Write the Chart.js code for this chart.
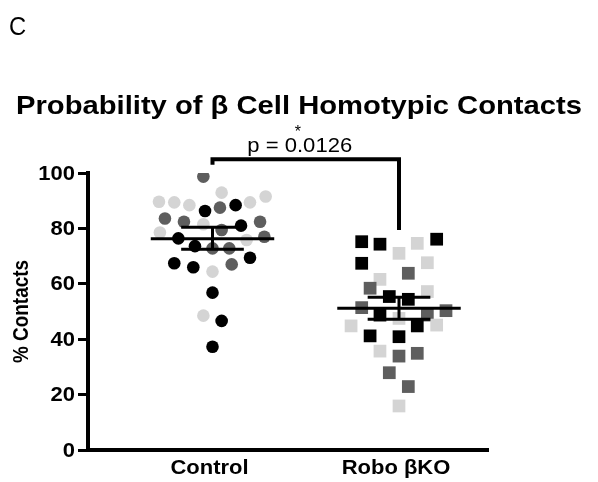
<!DOCTYPE html>
<html><head><meta charset="utf-8">
<script src="https://cdn.jsdelivr.net/npm/chart.js@4/dist/chart.umd.min.js"></script>
<style>html,body{margin:0;padding:0;background:#fff;} canvas{display:block}</style>
</head><body>
<canvas id="c" width="598" height="482"></canvas>
<script>
// ---- data ----
const categories = ['Control', 'Robo βKO'];
const yTicks = [0, 20, 40, 60, 80, 100];

const controlValues = [98.7, 92.9, 89.6, 89.4, 88.4, 86.3, 87.5, 88.4, 89.4, 91.5,
  83.6, 82.4, 81.5, 81.0, 82.4, 78.5, 79.4, 77.0, 75.8, 76.4,
  73.6, 72.8, 72.8, 69.4, 67.4, 66.0, 64.4, 67.0, 56.8, 48.5, 46.6, 37.3];
const controlShades = ['d','l','l','l','l','b','d','b','l','l',
  'd','d','l','b','d','l','d','d','l','b',
  'b','d','d','b','b','b','l','d','b','l','b','b'];
const controlJitter = [-0.049, 0.049, -0.287, -0.205, -0.124, -0.040, 0.040, 0.124, 0.201, 0.285,
  -0.255, -0.153, -0.049, 0.153, 0.255, -0.282, 0.049, 0.278, 0.183, -0.183,
  -0.094, 0.0, 0.090, 0.201, -0.205, -0.103, 0.0, 0.103, 0.0, -0.049, 0.049, 0.0];

const roboValues = [75.2, 74.3, 74.6, 76.1, 71.0, 67.4, 67.6, 63.8, 61.6, 58.4,
  57.2, 55.4, 54.4, 51.4, 50.3, 48.7, 47.5, 48.7, 44.8, 44.8,
  45.1, 41.2, 40.9, 35.7, 33.9, 34.9, 27.9, 22.9, 15.9];
const roboShades = ['b','b','l','b','l','b','l','d','l','d',
  'l','b','b','d','d','b','l','d','l','b',
  'l','b','b','l','d','d','d','d','l'];
const roboJitter = [-0.200, -0.102, 0.098, 0.202, 0.0, -0.200, 0.152, 0.050, -0.102, -0.155,
  0.152, -0.052, 0.050, -0.200, 0.252, -0.102, 0.0, 0.152, -0.257, 0.098,
  0.202, -0.155, 0.0, -0.102, 0.0, 0.098, -0.052, 0.050, 0.0];

const groupMeans = [76.3, 51.2];
const groupUpper = [80.4, 55.1];
const groupLower = [72.5, 47.2];

const pValueLabel = 'p = 0.0126';
const bracketLevel = 105;
const bracketDrops = [103, 79.4];

// ---- styling ----
const shadeColor = { b: '#000000', d: '#5e5e5e', l: '#d4d4d4' };
const FONT = '"Liberation Sans", Arial, Helvetica, sans-serif';
const xPos = [1, 2];

const datasets = [];
datasets.push({
  data: controlValues.map((v, i) => ({ x: xPos[0] + controlJitter[i], y: v })),
  pointStyle: 'circle', pointRadius: 6.3, pointBorderWidth: 0,
  pointBackgroundColor: controlShades.map(s => shadeColor[s]),
  showLine: false, order: 2
});
datasets.push({
  data: roboValues.map((v, i) => ({ x: xPos[1] + roboJitter[i], y: v })),
  pointStyle: 'rect', pointRadius: 9, pointBorderWidth: 0,
  pointBackgroundColor: roboShades.map(s => shadeColor[s]),
  showLine: false, order: 2
});
const meanHalf = 0.331, capHalf = 0.168;
function seg(pts, w) {
  return { data: pts, showLine: true, borderColor: '#000', borderWidth: w || 3,
    pointRadius: 0, fill: false, order: 1, clip: false, borderCapStyle: 'butt' };
}
for (let g = 0; g < 2; g++) {
  const c = xPos[g];
  datasets.push(seg([{ x: c - meanHalf, y: groupMeans[g] }, { x: c + meanHalf, y: groupMeans[g] }]));
  datasets.push(seg([{ x: c, y: groupLower[g] }, { x: c, y: groupUpper[g] }]));
  datasets.push(seg([{ x: c - capHalf, y: groupUpper[g] }, { x: c + capHalf, y: groupUpper[g] }]));
  datasets.push(seg([{ x: c - capHalf, y: groupLower[g] }, { x: c + capHalf, y: groupLower[g] }]));
}
const bracket = seg([
  { x: xPos[0], y: bracketDrops[0] }, { x: xPos[0], y: bracketLevel },
  { x: xPos[1], y: bracketLevel }, { x: xPos[1], y: bracketDrops[1] }], 4);
bracket.borderJoinStyle = 'miter';
datasets.push(bracket);

function sText(ctx, text, x, y, font, sx, align, base) {
  ctx.save();
  ctx.font = font; ctx.fillStyle = '#000';
  ctx.textAlign = align || 'center'; ctx.textBaseline = base || 'alphabetic';
  ctx.translate(x, y); ctx.scale(sx, 1);
  ctx.fillText(text, 0, 0);
  ctx.restore();
}

const textPlugin = {
  id: 'texts',
  afterDraw(chart) {
    const ctx = chart.ctx;
    const xs = chart.scales.x, ys = chart.scales.y;
    // panel letter
    sText(ctx, 'C', 9, 35, '25px ' + FONT, 0.95, 'left');
    // title, stretched to the reference width
    ctx.save();
    const tf = 'bold 26px ' + FONT;
    ctx.font = tf;
    const title = 'Probability of β Cell Homotypic Contacts';
    const tw = ctx.measureText(title).width;
    ctx.restore();
    sText(ctx, title, 299, 114, tf, 566 / tw, 'center');
    // y tick labels
    yTicks.forEach(v => {
      sText(ctx, String(v), ys.left - 1, ys.getPixelForValue(v) + 1, 'bold 20px ' + FONT, 1.1, 'right', 'middle');
    });
    // x category labels
    categories.forEach((c, i) => {
      sText(ctx, c, xs.getPixelForValue(xPos[i]) - 3, 474, 'bold 20px ' + FONT, 1.1, 'center');
    });
    // y axis title
    ctx.save();
    ctx.translate(28, (ys.top + ys.bottom) / 2);
    ctx.rotate(-Math.PI / 2);
    ctx.font = 'bold 22px ' + FONT; ctx.fillStyle = '#000'; ctx.textAlign = 'center'; ctx.textBaseline = 'alphabetic';
    ctx.scale(0.86, 1);
    ctx.fillText('% Contacts', 0, 0);
    ctx.restore();
    // p value annotation
    const mid = (xs.getPixelForValue(xPos[0]) + xs.getPixelForValue(xPos[1])) / 2 - 6;
    const by = ys.getPixelForValue(bracketLevel);
    sText(ctx, pValueLabel, mid, by - 7, '21px ' + FONT, 1.05, 'center');
    sText(ctx, '*', mid - 2, by - 22, '16px ' + FONT, 1, 'center');
  }
};

new Chart(document.getElementById('c'), {
  type: 'scatter',
  data: { datasets },
  options: {
    responsive: false, animation: false, devicePixelRatio: 1, events: [],
    layout: { padding: { left: 76, right: 110, top: 173, bottom: 22 } },
    plugins: { legend: { display: false }, tooltip: { enabled: false }, title: { display: false } },
    scales: {
      x: {
        type: 'linear', min: 1 - 124.5 / 186.5, max: 2 + 89 / 186.5,
        grid: { display: false }, ticks: { display: false },
        border: { display: true, color: '#000', width: 4 },
        afterFit: s => { s.height = 10; }
      },
      y: {
        type: 'linear', min: 0, max: 100,
        afterBuildTicks: s => { s.ticks = yTicks.map(v => ({ value: v })); },
        ticks: { display: false },
        grid: { display: true, drawOnChartArea: false, drawTicks: true, tickLength: 10, lineWidth: 3, color: '#000' },
        border: { display: true, color: '#000', width: 4 },
        afterFit: s => { s.width = 12; }
      }
    }
  },
  plugins: [textPlugin]
});
</script>
</body></html>
